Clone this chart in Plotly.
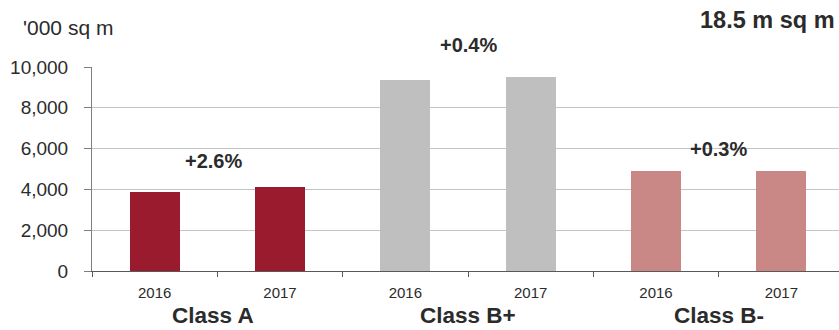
import plotly.graph_objects as go

classes = ["Class A", "Class B+", "Class B-"]
years = ["2016", "2017"]
values_2016 = [3850, 9350, 4900]
values_2017 = [4100, 9500, 4900]
growth_labels = ["+2.6%", "+0.4%", "+0.3%"]
total_label = "18.5 m sq m"
unit_label = "'000 sq m"
y_ticks = [0, 2000, 4000, 6000, 8000, 10000]

colors = ["#9B1B2E", "#BFBFBF", "#C98886"]
label_lift = [26, 32, 22]
label_shift_x = [-4, 0, 0]
FONT = "Liberation Sans, Arial, sans-serif"
TXT = "#2B2B2B"

fig = go.Figure()
xs, ys, cs, texts = [], [], [], []
for i, c in enumerate(classes):
    for j, (yr, v) in enumerate(zip(years, [values_2016[i], values_2017[i]])):
        xs.append(2 * i + j)
        ys.append(v)
        cs.append(colors[i])
        texts.append(yr)

fig.add_trace(go.Bar(x=xs, y=ys, marker=dict(color=cs, line=dict(width=0)),
                     width=0.4, hoverinfo="y", showlegend=False))

annotations = []
for i, c in enumerate(classes):
    top = max(values_2016[i], values_2017[i])
    annotations.append(dict(x=2 * i + 0.5, y=top, xref="x", yref="y",
                            text=f"<b>{growth_labels[i]}</b>", showarrow=False,
                            yanchor="middle", yshift=label_lift[i], xshift=label_shift_x[i],
                            font=dict(family=FONT, size=20, color=TXT)))
    annotations.append(dict(x=2 * i + 0.5, y=0, xref="x", yref="paper",
                            text=f"<b>{c}</b>", showarrow=False,
                            yanchor="bottom", yshift=-59, xshift=label_shift_x[i],
                            font=dict(family=FONT, size=22.5, color=TXT)))
annotations.append(dict(x=0, y=1, xref="paper", yref="paper", text=unit_label,
                        showarrow=False, xanchor="left", yanchor="middle",
                        xshift=-71, yshift=40,
                        font=dict(family=FONT, size=21, color=TXT)))
annotations.append(dict(x=1, y=1, xref="paper", yref="paper", text=f"<b>{total_label}</b>",
                        showarrow=False, xanchor="right", yanchor="middle",
                        xshift=-2, yshift=47,
                        font=dict(family=FONT, size=23.5, color=TXT)))

fig.update_layout(
    width=839, height=330,
    margin=dict(l=92, r=0, t=67, b=59),
    paper_bgcolor="white", plot_bgcolor="white",
    bargap=0,
    annotations=annotations,
    font=dict(family=FONT, color=TXT),
    xaxis=dict(range=[-0.5, 5.46], tickvals=xs, ticktext=texts, ticks="",
               tickfont=dict(family=FONT, size=15, color=TXT),
               ticklabelstandoff=8,
               showline=True, linecolor="#595959", linewidth=1,
               showgrid=False, zeroline=False, fixedrange=True,
               minor=dict(tickvals=[k - 0.5 for k in range(7)], ticks="outside",
                          ticklen=5, tickcolor="#595959", showgrid=False)),
    yaxis=dict(range=[0, 10000], tickvals=y_ticks, tickformat=",",
               tickfont=dict(family=FONT, size=19, color=TXT),
               ticklabelstandoff=12,
               showline=True, linecolor="#7F7F7F", linewidth=1,
               ticks="outside", ticklen=7, tickcolor="#7F7F7F",
               showgrid=True, gridcolor="#C4C4C4", gridwidth=1,
               zeroline=False, fixedrange=True),
)

fig.write_html("out.html")
